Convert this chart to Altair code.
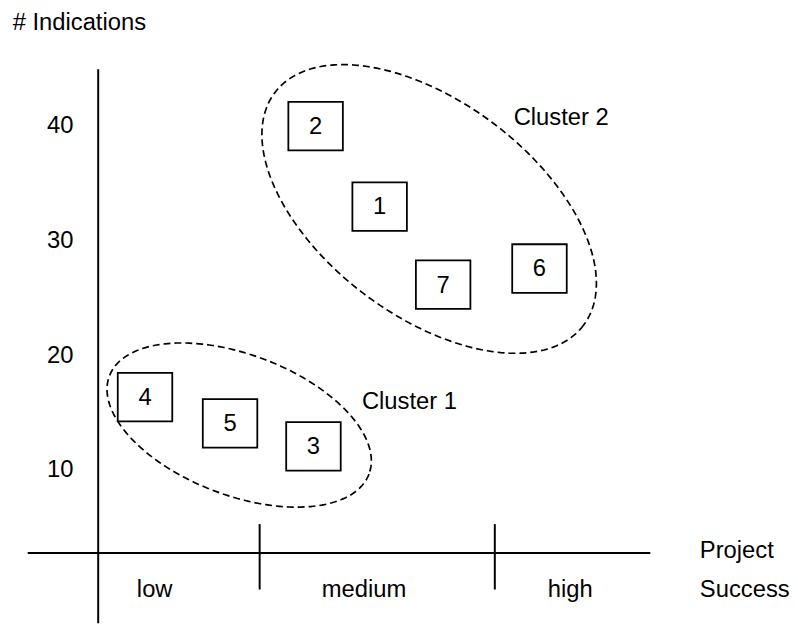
import altair as alt
import pandas as pd
import numpy as np

# ---------------- data ----------------
project_ids = ["1", "2", "3", "4", "5", "6", "7"]
project_success = [5.23, 4.04, 4.00, 0.87, 2.45, 8.20, 6.41]
project_indications = [33.0, 40.0, 12.1, 16.4, 14.1, 27.6, 26.2]

y_tick_values = [10, 20, 30, 40]

success_levels = ["low", "medium", "high"]
success_level_x = [1.05, 4.94, 8.77]
success_level_bounds = [3.0, 7.37]

cluster_names = ["Cluster 1", "Cluster 2"]
cluster_center_x = [2.62, 6.15]
cluster_center_y = [13.96, 32.79]
cluster_label_x = [4.90, 7.72]
cluster_label_y = [15.4, 40.1]

# ---------------- geometry / style ----------------
PX_PER_X = 54.3     # screen pixels per unit of success score
PX_PER_Y = 11.58    # screen pixels per indication
ELLIPSE_SHAPE = {   # semi-axes (px) and tilt (deg, clockwise on screen)
    "Cluster 1": (140.0, 71.0, 20.7),
    "Cluster 2": (195.0, 108.0, 37.0),
}
FONT = "Liberation Sans"
FS = 24
YTICK_LABEL_X = -0.46
LEVEL_LABEL_Y = -0.98

xscale = alt.Scale(domain=[-1.676, 12.8], nice=False, zero=False)
yscale = alt.Scale(domain=[-2.62, 50.06], nice=False, zero=False)


def X(field="x"):
    return alt.X(f"{field}:Q", scale=xscale, axis=None)


def Y(field="y"):
    return alt.Y(f"{field}:Q", scale=yscale, axis=None)


# axis lines
axis_df = pd.DataFrame({
    "x": [-1.31, 0.0] + success_level_bounds,
    "x2": [10.26, 0.0] + success_level_bounds,
    "y": [2.82, 44.97, 5.33, 5.33],
    "y2": [2.82, -3.3, -0.37, -0.37],
})
axes = alt.Chart(axis_df).mark_rule(color="black", strokeWidth=2).encode(
    x=X("x"), x2="x2:Q", y=Y("y"), y2="y2:Q"
)

# dashed cluster ellipses
rows = []
t = np.linspace(0, 2 * np.pi, 241)
for name, cx, cy in zip(cluster_names, cluster_center_x, cluster_center_y):
    a, b, ang = ELLIPSE_SHAPE[name]
    th = np.deg2rad(ang)
    dx = a * np.cos(t) * np.cos(th) - b * np.sin(t) * np.sin(th)
    dy = a * np.cos(t) * np.sin(th) + b * np.sin(t) * np.cos(th)
    for i, (ux, uy) in enumerate(zip(dx, dy)):
        rows.append({"cluster": name, "i": i,
                     "x": float(cx + ux / PX_PER_X), "y": float(cy - uy / PX_PER_Y)})
ell_df = pd.DataFrame(rows)
ellipses = alt.Chart(ell_df).mark_line(
    color="black", strokeWidth=1.7, strokeDash=[7, 4]
).encode(x=X("x"), y=Y("y"), detail="cluster:N", order="i:Q")

# project boxes
proj_df = pd.DataFrame({"id": project_ids, "x": project_success,
                        "y": project_indications})
box_path = "M-1,-0.89L1,-0.89L1,0.89L-1,0.89Z"
boxes = alt.Chart(proj_df).mark_point(
    shape=box_path, size=3025, filled=True, fill="white", fillOpacity=1,
    stroke="black", strokeWidth=1.8, opacity=1
).encode(x=X("x"), y=Y("y"))
box_text = alt.Chart(proj_df).mark_text(
    font=FONT, fontSize=FS, baseline="middle", align="center", dy=1, color="black"
).encode(x=X("x"), y=Y("y"), text="id:N")

# y tick labels
ytick_df = pd.DataFrame({"v": y_tick_values})
ytick_df["x"] = YTICK_LABEL_X
ytick_text = alt.Chart(ytick_df).mark_text(
    font=FONT, fontSize=FS, baseline="middle", align="right", color="black"
).encode(x=X("x"), y=Y("v"), text="v:Q")

# success level labels
lvl_df = pd.DataFrame({"label": success_levels, "x": success_level_x})
lvl_df["y"] = LEVEL_LABEL_Y
lvl_text = alt.Chart(lvl_df).mark_text(
    font=FONT, fontSize=FS, baseline="alphabetic", align="center", color="black"
).encode(x=X("x"), y=Y("y"), text="label:N")

# free annotations
ann_df = pd.DataFrame({
    "label": ["# Indications", "Project", "Success"] + cluster_names,
    "x": [-1.59, 11.18, 11.18] + cluster_label_x,
    "y": [48.39, 2.39, -1.06] + cluster_label_y,
})
ann_text = alt.Chart(ann_df).mark_text(
    font=FONT, fontSize=FS, baseline="alphabetic", align="left", color="black"
).encode(x=X("x"), y=Y("y"), text="label:N")

chart = alt.layer(
    axes, ellipses, boxes, box_text, ytick_text, lvl_text, ann_text
).properties(
    width=786, height=610, padding=0,
    background="white",
).configure_view(stroke=None)

chart.save("out.html", embed_options={"renderer": "svg", "actions": False})
